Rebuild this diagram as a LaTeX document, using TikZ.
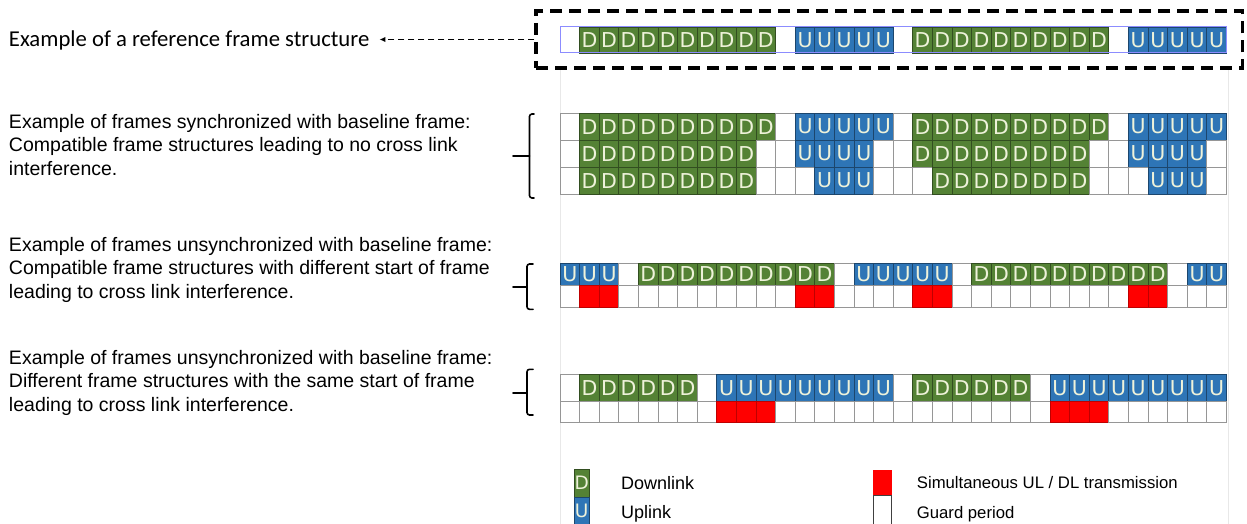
\documentclass[tikz,border=0pt]{standalone}
\usepackage{fontspec}
\setmainfont{Liberation Sans}
\newfontfamily\calibfont{Carlito}
\newfontfamily\cellfont{DejaVu Sans}
\usetikzlibrary{arrows.meta}
\definecolor{dgreen}{HTML}{548235}
\definecolor{dblue}{HTML}{2E75B6}
\definecolor{lettercol}{RGB}{238,242,218}
\definecolor{gridgray}{RGB}{150,150,150}
\definecolor{refblue}{RGB}{140,140,255}
\definecolor{faintgray}{RGB}{232,232,232}
\newcommand\labD{D}
\newcommand\labU{U}
\newcommand\labB{}
\newcommand\labE{}
\newcommand\labR{}
\newcommand\framerow[4]{%
  \foreach \ct [count=\i from 0] in {#4} {%
    \expandafter\node\expandafter[\ct cell, minimum height=#3pt] (#1\i) at ({560+(\i+0.5)*19.6},{#2+#3/2}) {\csname lab\ct\endcsname};
  }%
}
\begin{document}
\begin{tikzpicture}[x=1pt, y=-1pt,
  cellbase/.style={rectangle, inner sep=0pt, outer sep=0pt, minimum width=19.6pt, line width=0.9pt, font=\cellfont\fontsize{20.5}{20.5}\selectfont, text=lettercol},
  Dcell/.style={cellbase, fill=dgreen, draw=dgreen!60!black},
  Ucell/.style={cellbase, fill=dblue, draw=dblue!60!black},
  Rcell/.style={cellbase, fill=red, draw=red!75!black},
  Bcell/.style={cellbase, fill=white, draw=gridgray},
  Ecell/.style={cellbase},
  leftlabel/.style={anchor=north west, align=left, inner sep=0pt, font=\fontsize{19.5}{23.5}\selectfont},
  brace/.style={line width=1.6pt, rounded corners=2.5pt, line cap=round},
  legtext/.style={anchor=base west, inner sep=0pt, font=\fontsize{18}{18}\selectfont},
  legtextb/.style={anchor=base west, inner sep=0pt, font=\fontsize{16.7}{16.7}\selectfont},
  legbox/.style={rectangle, inner sep=0pt, outer sep=0pt, minimum width=15.5pt, line width=0.8pt, font=\cellfont\fontsize{18.5}{18.5}\selectfont, text=lettercol}
]
\fill[white] (0,0) rectangle (1247,524);
\useasboundingbox (0,0) rectangle (1247,524);

% faint page edges
\draw[faintgray, line width=1pt] (560,70) -- (560,524);
\draw[faintgray, line width=1pt] (1228,70) -- (1228,524);

% reference frame
\framerow{r}{27}{26}{E,D,D,D,D,D,D,D,D,D,D,E,U,U,U,U,U,E,D,D,D,D,D,D,D,D,D,D,E,U,U,U,U,U}
\draw[refblue, line width=1pt] (r0.north west) rectangle (r33.south east);

% group 1
\framerow{a}{113.3}{26.7}{B,D,D,D,D,D,D,D,D,D,D,B,U,U,U,U,U,B,D,D,D,D,D,D,D,D,D,D,B,U,U,U,U,U}
\framerow{b}{140}{27.3}{B,D,D,D,D,D,D,D,D,D,B,B,U,U,U,U,B,B,D,D,D,D,D,D,D,D,D,B,B,U,U,U,U,B}
\framerow{c}{167.3}{26.7}{B,D,D,D,D,D,D,D,D,D,B,B,B,U,U,U,B,B,B,D,D,D,D,D,D,D,D,B,B,B,U,U,U,B}

% group 2
\framerow{d}{263.3}{22.4}{U,U,U,B,D,D,D,D,D,D,D,D,D,D,B,U,U,U,U,U,B,D,D,D,D,D,D,D,D,D,D,B,U,U}
\framerow{e}{285.7}{21.6}{B,R,R,B,B,B,B,B,B,B,B,B,R,R,B,B,B,B,R,R,B,B,B,B,B,B,B,B,B,R,R,B,B,B}

% group 3
\framerow{f}{374.3}{27.4}{B,D,D,D,D,D,D,B,U,U,U,U,U,U,U,U,U,B,D,D,D,D,D,D,B,U,U,U,U,U,U,U,U,U}
\framerow{g}{401.7}{21}{B,B,B,B,B,B,B,B,R,R,R,B,B,B,B,B,B,B,B,B,B,B,B,B,B,R,R,R,B,B,B,B,B,B}

% dashed highlight box and its label
\node[draw=black, line width=3.3pt, dash pattern=on 12pt off 7pt, minimum width=706.5pt, minimum height=57pt, inner sep=0pt] (refbox) at (889.25,39.5) {};
\node[anchor=base west, inner sep=0pt, font=\calibfont\fontsize{22.7}{22.7}\selectfont] (reftext) at (8.8,46.5) {Example of a reference frame structure};
\draw[line width=1.8pt, dash pattern=on 6pt off 4pt, -{Latex[length=6pt,width=5.5pt]}] (refbox.west) -- ([xshift=10pt]reftext.east |- refbox.west);

% left descriptions
\node[leftlabel] (g1text) at (8.8,114) {Example of frames synchronized with baseline frame:\\Compatible frame structures leading to no cross link\\interference.};
\node[leftlabel] (g2text) at (8.8,237) {Example of frames unsynchronized with baseline frame:\\Compatible frame structures with different start of frame\\leading to cross link interference.};
\node[leftlabel] (g3text) at (8.8,350) {Example of frames unsynchronized with baseline frame:\\Different frame structures with the same start of frame\\leading to cross link interference.};

% braces
\draw[brace] (534,114) -- (529.5,114) -- (529.5,198) -- (534,198);
\draw[brace] (513,156) -- (529.5,156);
\draw[brace] (533,264) -- (527,264) -- (527,309.3) -- (533,309.3);
\draw[brace] (513,286.7) -- (527,286.7);
\draw[brace] (533,369.3) -- (527,369.3) -- (527,415) -- (533,415);
\draw[brace] (513,392.7) -- (527,392.7);

% legend
\node[legbox, fill=dgreen, draw=dgreen!60!black, minimum height=28pt] (legD) at (581.75,483) {D};
\node[legbox, fill=dblue, draw=dblue!60!black, minimum height=27pt] (legU) at (581.75,510.5) {U};
\node[legbox, fill=red, draw=red, minimum height=25.5pt, minimum width=18.4pt] (legR) at (882.5,482.75) {};
\node[legbox, fill=white, draw=black!75, minimum height=28.5pt, minimum width=18.4pt] (legG) at (882.5,509.75) {};
\node[legtext] (legDt) at (621,489) {Downlink};
\node[legtext] (legUt) at (621,518.5) {Uplink};
\node[legtextb] (legRt) at (916.7,488.3) {Simultaneous UL / DL transmission};
\node[legtextb] (legGt) at (916.7,518.3) {Guard period};
\end{tikzpicture}
\end{document}
